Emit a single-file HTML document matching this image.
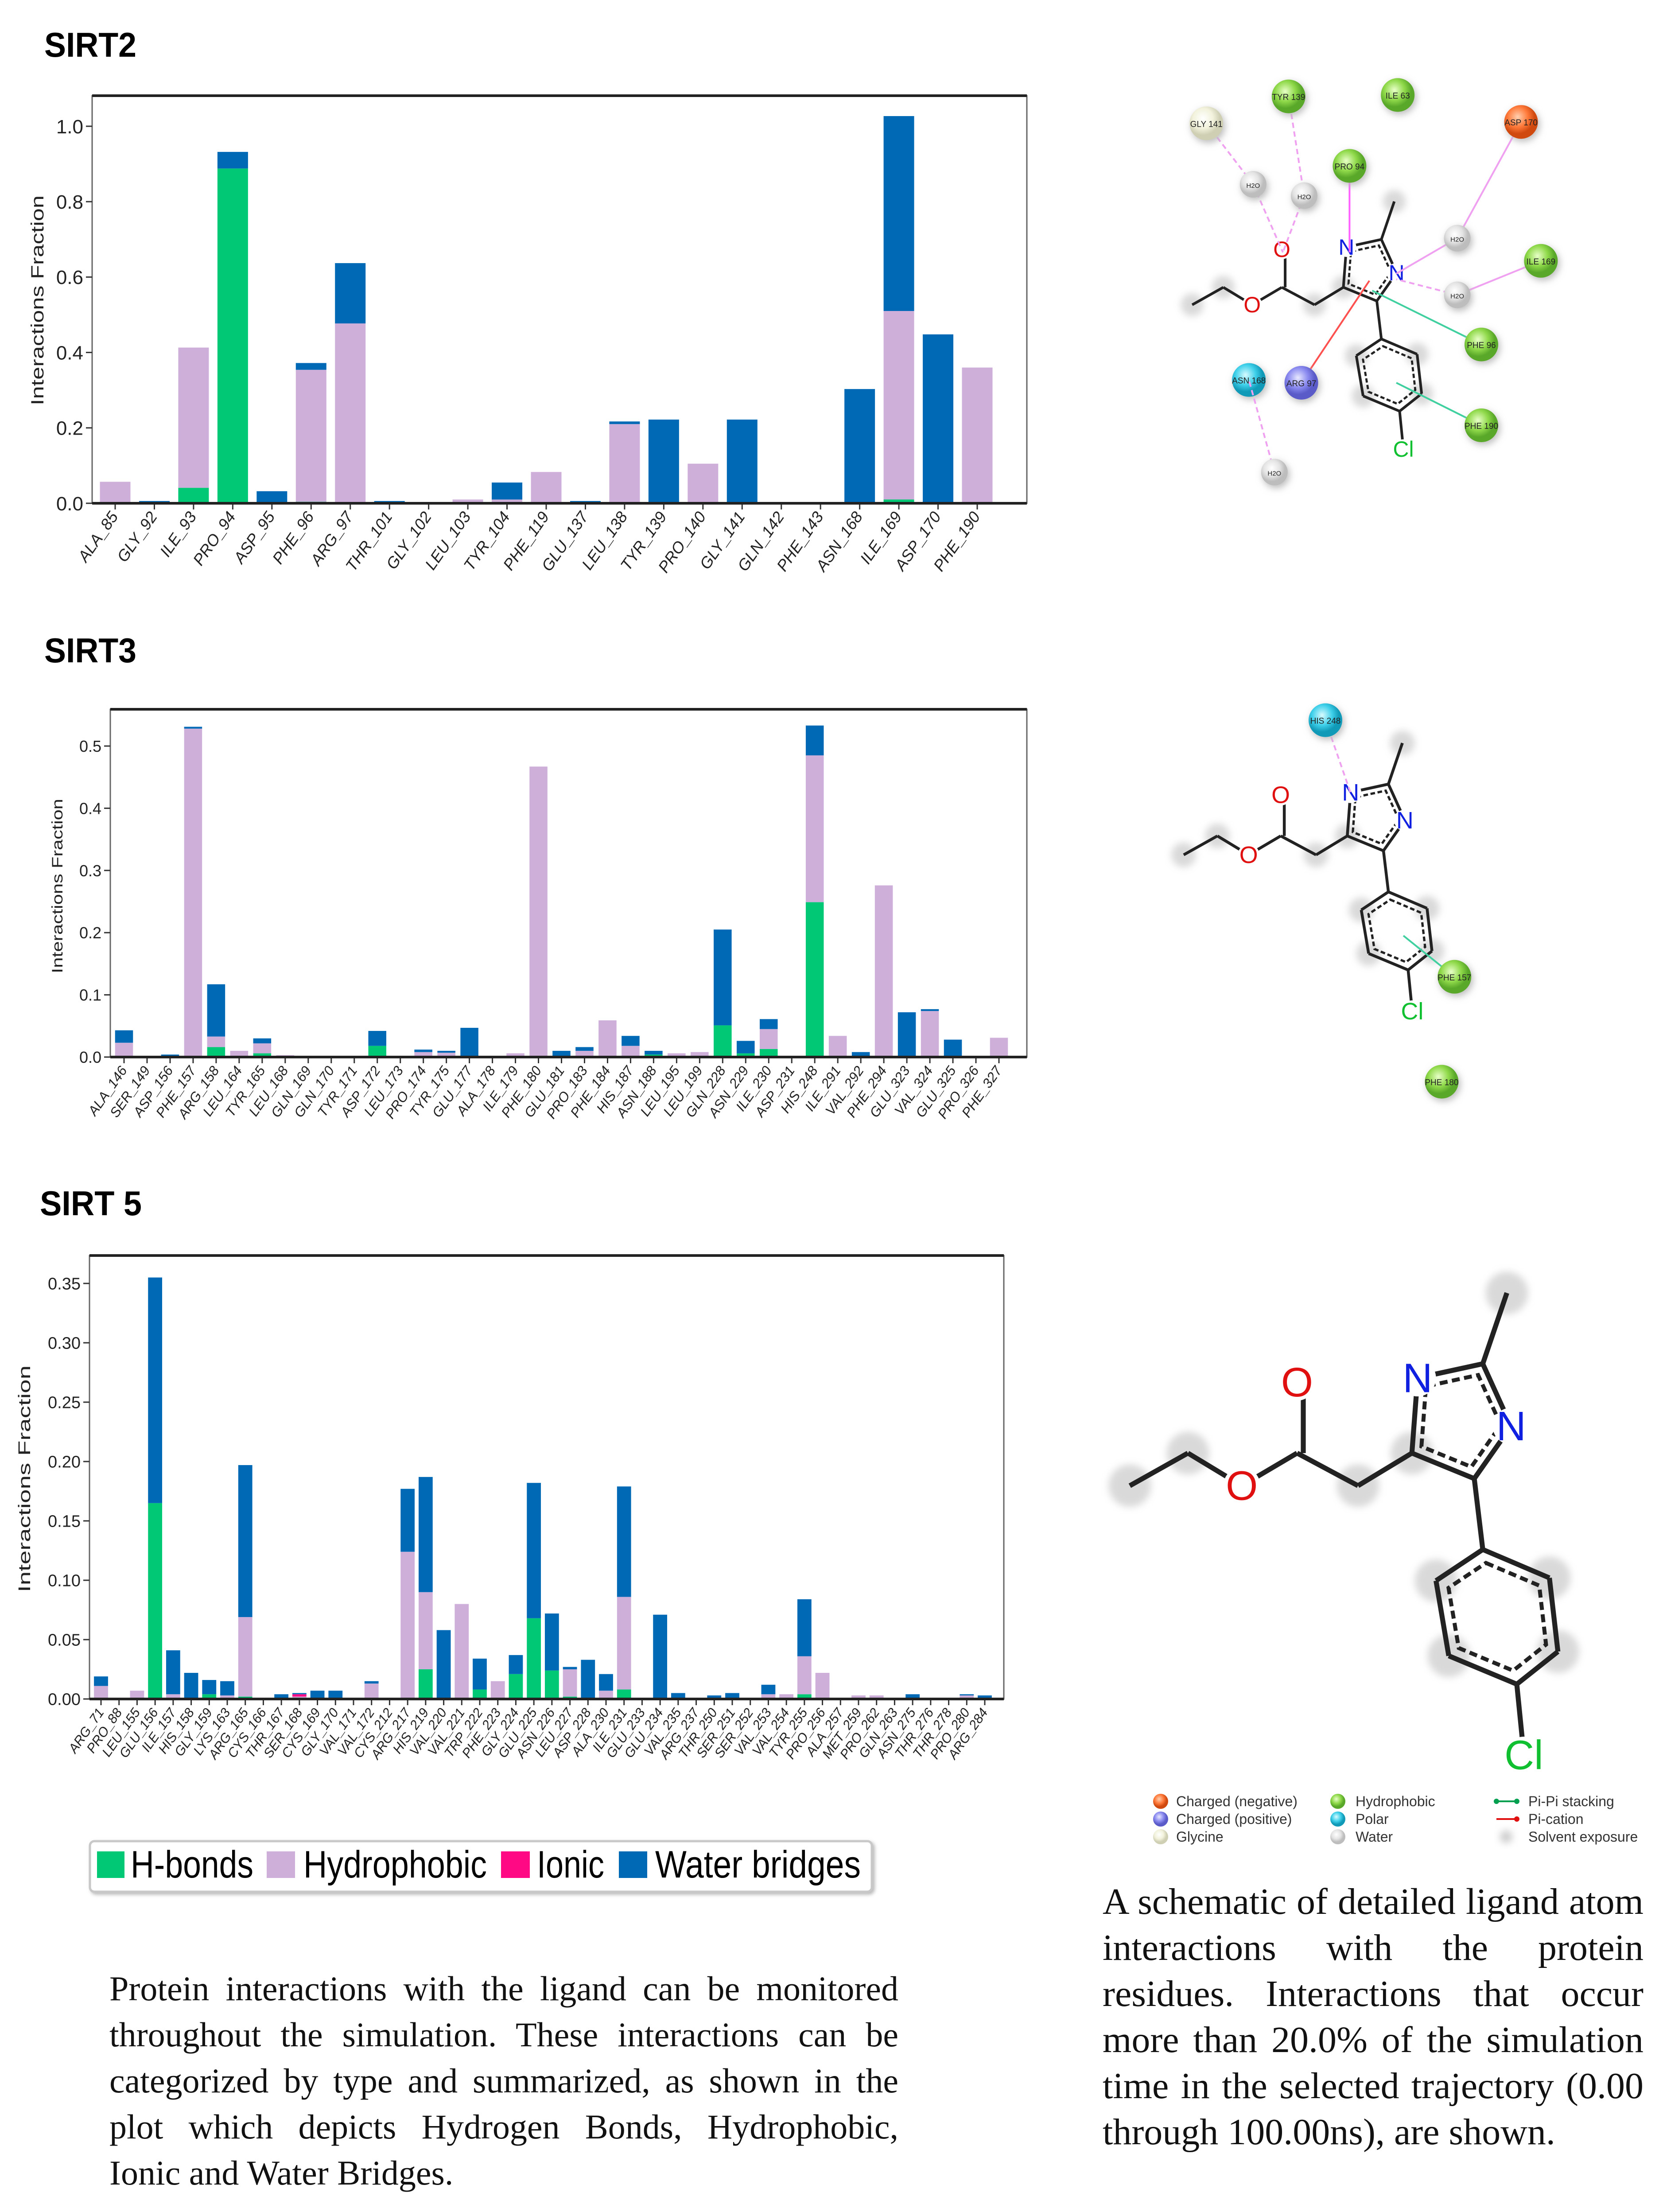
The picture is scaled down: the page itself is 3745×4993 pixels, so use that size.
<!DOCTYPE html>
<html><head><meta charset="utf-8"><style>
html,body{margin:0;padding:0;background:#fff;}
body{position:relative;width:3745px;height:4993px;overflow:hidden;}
svg{display:block;position:absolute;left:0;top:0;}
.cap{position:absolute;font-family:'Liberation Serif',serif;font-size:84px;line-height:104px;color:#111;}
.cap.left{font-size:78px;}
.cap div{text-align:justify;text-align-last:justify;height:104px;overflow:visible;}
.cap div.lastline{text-align:left;text-align-last:left;white-space:nowrap;}
</style></head><body>
<svg id="fig" xmlns="http://www.w3.org/2000/svg" width="3745" height="4993" viewBox="0 0 3745 4993" font-family="'Liberation Sans', sans-serif">
<defs>
<filter id="blur" x="-50%" y="-50%" width="200%" height="200%"><feGaussianBlur stdDeviation="8"/></filter>
<filter id="shadow" x="-5%" y="-20%" width="110%" height="140%"><feDropShadow dx="4" dy="4" stdDeviation="4" flood-color="#999" flood-opacity="0.7"/></filter>
<radialGradient id="gGreen" cx="40%" cy="35%"><stop offset="0" stop-color="#e8ffc8"/><stop offset="0.6" stop-color="#8fd94a"/><stop offset="1" stop-color="#5aa82a"/></radialGradient>
<radialGradient id="gOrange" cx="40%" cy="35%"><stop offset="0" stop-color="#ffd0b0"/><stop offset="0.6" stop-color="#ff7a3a"/><stop offset="1" stop-color="#d04a10"/></radialGradient>
<radialGradient id="gCyan" cx="40%" cy="35%"><stop offset="0" stop-color="#d8fbff"/><stop offset="0.6" stop-color="#3fd0ea"/><stop offset="1" stop-color="#109ab8"/></radialGradient>
<radialGradient id="gPurple" cx="40%" cy="35%"><stop offset="0" stop-color="#e8e8ff"/><stop offset="0.6" stop-color="#8a8af0"/><stop offset="1" stop-color="#5a5ac8"/></radialGradient>
<radialGradient id="gPale" cx="40%" cy="35%"><stop offset="0" stop-color="#ffffff"/><stop offset="0.6" stop-color="#f2f2dc"/><stop offset="1" stop-color="#cfcfb4"/></radialGradient>
<radialGradient id="gGray" cx="40%" cy="35%"><stop offset="0" stop-color="#ffffff"/><stop offset="0.6" stop-color="#e4e4e4"/><stop offset="1" stop-color="#bdbdbd"/></radialGradient>
</defs>

<text x="100" y="128" font-size="78" font-weight="bold" textLength="208" lengthAdjust="spacingAndGlyphs">SIRT2</text>
<text x="100" y="1495" font-size="78" font-weight="bold" textLength="208" lengthAdjust="spacingAndGlyphs">SIRT3</text>
<text x="90" y="2743" font-size="78" font-weight="bold" textLength="230" lengthAdjust="spacingAndGlyphs">SIRT 5</text>

<g id="charts"></g>
<g id="mols"></g>

<g>
<rect x="203" y="4156" width="1765" height="114" rx="10" fill="#fff" stroke="#c8c8c8" stroke-width="5" filter="url(#shadow)"/>
<rect x="219" y="4179" width="62" height="60" fill="#00C875"/>
<text x="295" y="4238" font-size="86" textLength="277" lengthAdjust="spacingAndGlyphs">H-bonds</text>
<rect x="602" y="4179" width="64" height="60" fill="#CDAFD9"/>
<text x="685" y="4238" font-size="86" textLength="414" lengthAdjust="spacingAndGlyphs">Hydrophobic</text>
<rect x="1131" y="4179" width="65" height="60" fill="#FF0A84"/>
<text x="1212" y="4238" font-size="86" textLength="152" lengthAdjust="spacingAndGlyphs">Ionic</text>
<rect x="1397" y="4179" width="64" height="60" fill="#0069B6"/>
<text x="1479" y="4238" font-size="86" textLength="464" lengthAdjust="spacingAndGlyphs">Water bridges</text>
</g>

<g font-size="32" fill="#333">
<circle cx="2620" cy="4066" r="17" fill="url(#gOrange)"/><text x="2655" y="4077">Charged (negative)</text>
<circle cx="2620" cy="4106" r="17" fill="url(#gPurple)"/><text x="2655" y="4117">Charged (positive)</text>
<circle cx="2620" cy="4146" r="17" fill="url(#gPale)"/><text x="2655" y="4157">Glycine</text>
<circle cx="3020" cy="4066" r="17" fill="url(#gGreen)"/><text x="3060" y="4077">Hydrophobic</text>
<circle cx="3020" cy="4106" r="17" fill="url(#gCyan)"/><text x="3060" y="4117">Polar</text>
<circle cx="3020" cy="4146" r="17" fill="url(#gGray)"/><text x="3060" y="4157">Water</text>
<line x1="3378" y1="4066" x2="3424" y2="4066" stroke="#00a050" stroke-width="4"/><circle cx="3378" cy="4066" r="6" fill="#00a050"/><circle cx="3424" cy="4066" r="6" fill="#00a050"/><text x="3450" y="4077">Pi-Pi stacking</text>
<line x1="3378" y1="4106" x2="3424" y2="4106" stroke="#e01010" stroke-width="4"/><circle cx="3424" cy="4106" r="6" fill="#e01010"/><text x="3450" y="4117">Pi-cation</text>
<circle cx="3400" cy="4146" r="14" fill="#ccc" filter="url(#blur)"/><text x="3450" y="4157">Solvent exposure</text>
</g>
</svg>

<div class="cap left" style="left:247px;top:4437px;width:1781px;">
<div>Protein interactions with the ligand can be monitored</div>
<div>throughout the simulation. These interactions can be</div>
<div>categorized by type and summarized, as shown in the</div>
<div>plot which depicts Hydrogen Bonds, Hydrophobic,</div>
<div class="lastline">Ionic and Water Bridges.</div>
</div>
<div class="cap" style="left:2489px;top:4241px;width:1221px;">
<div>A schematic of detailed ligand atom</div>
<div>interactions with the protein</div>
<div>residues. Interactions that occur</div>
<div>more than 20.0% of the simulation</div>
<div>time in the selected trajectory (0.00</div>
<div class="lastline">through 100.00ns), are shown.</div>
</div>

<script>
// ---------- SIRT2 data ----------
const sirt2Residues = ["ALA_85","GLY_92","ILE_93","PRO_94","ASP_95","PHE_96","ARG_97","THR_101","GLY_102","LEU_103","TYR_104","PHE_119","GLU_137","LEU_138","TYR_139","PRO_140","GLY_141","GLN_142","PHE_143","ASN_168","ILE_169","ASP_170","PHE_190"];
const sirt2HBonds      = [0,0,0.041,0.888,0,0.004,0,0,0,0,0,0,0,0,0,0,0,0,0,0,0.010,0,0];
const sirt2Hydrophobic = [0.057,0,0.372,0,0,0.350,0.477,0,0,0.010,0.010,0.083,0,0.210,0,0.105,0,0,0.003,0,0.500,0,0.360];
const sirt2Ionic       = [0,0,0,0,0,0,0,0,0,0,0,0,0,0,0,0,0,0,0,0,0,0,0];
const sirt2Water       = [0,0.006,0,0.044,0.032,0.018,0.160,0.006,0,0,0.045,0,0.006,0.007,0.222,0,0.222,0,0,0.303,0.517,0.448,0];
const sirt2YTicks = [0,0.2,0.4,0.6,0.8,1.0];
const sirt2YLabels = ["0.0","0.2","0.4","0.6","0.8","1.0"];

// ---------- SIRT3 data ----------
const sirt3Residues = ["ALA_146","SER_149","ASP_156","PHE_157","ARG_158","LEU_164","TYR_165","LEU_168","GLN_169","GLN_170","TYR_171","ASP_172","LEU_173","PRO_174","TYR_175","GLU_177","ALA_178","ILE_179","PHE_180","GLU_181","PRO_183","PHE_184","HIS_187","ASN_188","LEU_195","LEU_199","GLN_228","ASN_229","ILE_230","ASP_231","HIS_248","ILE_291","VAL_292","PHE_294","GLU_323","VAL_324","GLU_325","PRO_326","PHE_327"];
const sirt3HBonds      = [0,0,0,0,0.016,0,0.006,0,0,0,0,0.018,0,0,0,0,0,0,0,0,0,0,0.002,0.004,0,0,0.051,0.006,0.013,0,0.249,0,0,0,0,0,0,0,0];
const sirt3Hydrophobic = [0.023,0,0,0.528,0.017,0.010,0.016,0.003,0,0,0,0,0,0.008,0.007,0,0,0.006,0.467,0,0.010,0.059,0.016,0,0.006,0.008,0,0,0.032,0,0.236,0.034,0,0.276,0,0.074,0,0,0.031];
const sirt3Ionic       = [0,0,0,0,0,0,0,0,0,0,0,0,0,0,0,0,0,0,0,0,0,0,0,0,0,0,0,0,0,0,0,0,0,0,0,0,0,0,0];
const sirt3Water       = [0.020,0,0.004,0.003,0.084,0,0.008,0,0.001,0.001,0.002,0.024,0.001,0.004,0.003,0.047,0,0,0,0.010,0.006,0,0.016,0.006,0,0,0.154,0.020,0.016,0.001,0.048,0,0.008,0,0.072,0.003,0.028,0,0];
const sirt3YTicks = [0,0.1,0.2,0.3,0.4,0.5];
const sirt3YLabels = ["0.0","0.1","0.2","0.3","0.4","0.5"];

// ---------- SIRT5 data ----------
const sirt5Residues = ["ARG_71","PRO_88","LEU_155","GLU_156","ILE_157","HIS_158","GLY_159","LYS_163","ARG_165","CYS_166","THR_167","SER_168","CYS_169","GLY_170","VAL_171","VAL_172","CYS_212","ARG_217","HIS_219","VAL_220","VAL_221","TRP_222","PHE_223","GLY_224","GLU_225","ASN_226","LEU_227","ASP_228","ALA_230","ILE_231","GLU_233","GLU_234","VAL_235","ARG_237","THR_250","SER_251","SER_252","VAL_253","VAL_254","TYR_255","PRO_256","ALA_257","MET_259","PRO_262","GLN_263","ASN_275","THR_276","THR_278","PRO_280","ARG_284"];
const sirt5HBonds      = [0,0,0,0.165,0.001,0,0.004,0,0.002,0,0.001,0.001,0.001,0.001,0,0,0,0,0.025,0,0,0.008,0,0.021,0.068,0.024,0.002,0,0,0.008,0,0,0,0,0,0,0,0,0,0.004,0,0,0,0,0.001,0,0,0,0,0];
const sirt5Hydrophobic = [0.011,0,0.007,0,0.003,0.001,0,0.003,0.067,0,0,0.001,0,0,0,0.013,0,0.124,0.065,0,0.080,0,0.015,0,0,0,0.023,0,0.007,0.078,0,0,0,0.001,0,0,0,0.004,0.004,0.032,0.022,0,0.003,0.003,0,0,0,0,0.003,0];
const sirt5Ionic       = [0,0,0,0,0,0,0,0,0,0,0,0.002,0,0,0,0,0.001,0,0,0,0,0,0,0,0,0,0,0,0,0,0,0,0,0,0,0,0,0,0,0,0,0,0,0,0,0,0,0,0,0];
const sirt5Water       = [0.008,0,0,0.190,0.037,0.021,0.012,0.012,0.128,0.001,0.003,0.001,0.006,0.006,0,0.002,0,0.053,0.097,0.058,0,0.026,0,0.016,0.114,0.048,0.002,0.033,0.014,0.093,0.001,0.071,0.005,0,0.003,0.005,0.001,0.008,0,0.048,0,0.001,0,0,0,0.004,0.001,0.001,0.001,0.003];
const sirt5YTicks = [0,0.05,0.10,0.15,0.20,0.25,0.30,0.35];
const sirt5YLabels = ["0.00","0.05","0.10","0.15","0.20","0.25","0.30","0.35"];

const COLORS = {hb:"#00C875", hy:"#CDAFD9", io:"#FF0A84", wb:"#0069B6"};
const NS = "http://www.w3.org/2000/svg";
function mk(tag, attrs, parent){ const e=document.createElementNS(NS,tag); for(const k in attrs) e.setAttribute(k,attrs[k]); if(parent) parent.appendChild(e); return e; }

function drawChart(id, cats, hb, hy, io, wb, yTicks, yLabels, L){
  const g = mk('g',{},document.getElementById('charts'));
  
  
  const yS = v => L.base - v*(L.base-L.refPx)/L.refVal;
  const n = cats.length;
  const step = (L.lastTick-L.firstTick)/(n-1);
  const xS = i => L.firstTick + i*step;
  const bw = step*0.78;
  mk('rect',{x:L.left,y:L.top,width:L.right-L.left,height:L.base-L.top,fill:'#fff',stroke:'#666','stroke-width':3},g);
  mk('line',{x1:L.left,y1:L.top,x2:L.right,y2:L.top,stroke:'#222','stroke-width':6},g);
  for(let i=0;i<n;i++){
    let acc=0;
    const segs=[[hb[i],COLORS.hb,'hbonds'],[hy[i],COLORS.hy,'hydrophobic'],[io[i],COLORS.io,'ionic'],[wb[i],COLORS.wb,'water-bridges']];
    for(const s of segs){
      if(s[0]<=0) continue;
      const y0=yS(acc), y1=yS(acc+s[0]);
      const r=mk('rect',{x:xS(i)-bw/2,y:y1,width:bw,height:Math.max(y0-y1,1.5),fill:s[1]},g);
      
      
      acc+=s[0];
    }
    mk('line',{x1:xS(i),y1:L.base,x2:xS(i),y2:L.base+14,stroke:'#333','stroke-width':3},g);
    const t=mk('text',{x:xS(i)+8,y:L.base+30,'font-size':L.xfs,'font-style':'italic','text-anchor':'end',fill:'#222',transform:`rotate(-55 ${xS(i)+8} ${L.base+30})`},g);
    t.textContent=cats[i];
    
    
  }
  mk('line',{x1:L.left,y1:L.base,x2:L.right,y2:L.base,stroke:'#222','stroke-width':6},g);
  yTicks.forEach((v,k)=>{
    mk('line',{x1:L.left-14,y1:yS(v),x2:L.left,y2:yS(v),stroke:'#333','stroke-width':3},g);
    const t=mk('text',{x:L.left-20,y:yS(v)+L.yfs*0.36,'font-size':L.yfs,'text-anchor':'end',fill:'#222'},g);
    t.textContent=yLabels[k];
    
    
  });
  const yt=mk('text',{x:L.ytX,y:L.ytY,'font-size':L.ytFs,'text-anchor':'middle',fill:'#222',textLength:L.ytLen,lengthAdjust:'spacingAndGlyphs',transform:`rotate(-90 ${L.ytX} ${L.ytY})`},g);
  yt.textContent='Interactions Fraction';
  
  
}

drawChart('sirt2',sirt2Residues,sirt2HBonds,sirt2Hydrophobic,sirt2Ionic,sirt2Water,sirt2YTicks,sirt2YLabels,
  {left:208,right:2318,top:216,base:1136,refVal:1.0,refPx:285,firstTick:260,lastTick:2206,xfs:36,yfs:44,ytX:98,ytY:678,ytFs:40,ytLen:474});
drawChart('sirt3',sirt3Residues,sirt3HBonds,sirt3Hydrophobic,sirt3Ionic,sirt3Water,sirt3YTicks,sirt3YLabels,
  {left:249,right:2318,top:1601,base:2386,refVal:0.5,refPx:1684,firstTick:280,lastTick:2255,xfs:31,yfs:36,ytX:141,ytY:2000,ytFs:34,ytLen:394});
drawChart('sirt5',sirt5Residues,sirt5HBonds,sirt5Hydrophobic,sirt5Ionic,sirt5Water,sirt5YTicks,sirt5YLabels,
  {left:202,right:2266,top:2834,base:3835,refVal:0.35,refPx:2897,firstTick:228,lastTick:2223,xfs:30,yfs:38,ytX:68,ytY:3338,ytFs:38,ytLen:512});

// ---------- molecule diagrams ----------
const atoms = {a0:[0,0],a1:[41,-23],Oe:[79,0],Cc:[118,-23],Oc:[118,-73],CH2:[161,0],C4:[199,-23],N1:[203,-76],C2:[249,-86],Me:[266,-136],N3:[269,-42],C5:[243,-5],P1:[249,45],P2:[296,65],P3:[302,117],P4:[273,140],P5:[225,120],P6:[216,67],Cl:[278,190]};
const bonds = [["a0","a1"],["a1","Oe"],["Oe","Cc"],["Cc","CH2"],["CH2","C4"],["C4","N1"],["N1","C2"],["C2","Me"],["C2","N3"],["N3","C5"],["C5","C4"],["C5","P1"],["P1","P2"],["P2","P3"],["P3","P4"],["P4","P5"],["P5","P6"],["P6","P1"],["P4","Cl"]];
function drawMol(name, ox, oy, s, residues){
  const g = mk('g',{},document.getElementById('mols'));
  
  
  const P = k => [ox+atoms[k][0]*3.2*s, oy+atoms[k][1]*3.2*s];
  ["a0","a1","CH2","C4","Me","P2","P3","P5","P6"].forEach(k=>{const p=P(k); mk('circle',{cx:p[0],cy:p[1],r:30*s*1.6,fill:'#d0d0d0',filter:'url(#blur)',opacity:0.8},g);});
  const sw = 7*s*1.6;
  bonds.forEach(b=>{const p=P(b[0]),q=P(b[1]); mk('line',{x1:p[0],y1:p[1],x2:q[0],y2:q[1],stroke:'#222','stroke-width':sw},g);});
  const c=P("Cc"),o=P("Oc"); mk('line',{x1:c[0]+14*s,y1:c[1],x2:o[0]+14*s,y2:o[1]+20*s,stroke:'#222','stroke-width':sw},g);
  const ring=(ks)=>{const pts=ks.map(P); const cx=pts.reduce((a,p)=>a+p[0],0)/pts.length, cy=pts.reduce((a,p)=>a+p[1],0)/pts.length;
    const inner=pts.map(p=>[cx+(p[0]-cx)*0.8,cy+(p[1]-cy)*0.8]);
    mk('polygon',{points:inner.map(p=>p.join(',')).join(' '),fill:'none',stroke:'#222','stroke-width':sw*0.8,'stroke-dasharray':`${18*s} ${10*s}`},g);};
  ring(["C4","N1","C2","N3","C5"]); ring(["P1","P2","P3","P4","P5","P6"]);
  const lab=(k,t,col)=>{const p=P(k); mk('circle',{cx:p[0],cy:p[1],r:26*s*1.6,fill:'#fff'},g); const e=mk('text',{x:p[0],y:p[1]+20*s*1.6,'font-size':58*s*1.6,'text-anchor':'middle',fill:col},g); e.textContent=t;};
  lab("Oe","O","#e01010"); lab("Oc","O","#e01010"); lab("N1","N","#1020e0"); lab("N3","N","#1020e0"); lab("Cl","Cl","#10c030");
  residues.forEach(r=>{
    if(r.line){ mk('line',{x1:r.x,y1:r.y,x2:r.line[0],y2:r.line[1],stroke:r.lc,'stroke-width':4,'stroke-dasharray':r.dash?'12 8':'none'},g); }
    mk('circle',{cx:r.x+4,cy:r.y+6,r:r.r,fill:'#bbb',filter:'url(#blur)'},g);
    mk('circle',{cx:r.x,cy:r.y,r:r.r,fill:`url(#${r.f})`},g);
    const t=mk('text',{x:r.x,y:r.y+8,'font-size':r.r*0.5,'text-anchor':'middle',fill:'#222'},g); t.textContent=r.t;
  });
}
const sc=3.2;
drawMol('sirt5-ligand-diagram',797*sc,1048*sc,1.0,[]);
drawMol('sirt3-ligand-diagram',835*sc,603*sc,0.58,[
 {x:935*sc,y:508*sc,r:38,f:'gCyan',t:'HIS 248',line:[953*sc,560*sc],lc:'#f0a0f0',dash:true},
 {x:1026*sc,y:689*sc,r:38,f:'gGreen',t:'PHE 157',line:[990*sc,660*sc],lc:'#40d0a0'},
 {x:1017*sc,y:763*sc,r:38,f:'gGreen',t:'PHE 180'}]);
drawMol('sirt2-ligand-diagram',841*sc,215*sc,0.536,[
 {x:851*sc,y:87*sc,r:38,f:'gPale',t:'GLY 141',line:[884*sc,130*sc],lc:'#f0a0f0',dash:true},
 {x:909*sc,y:68*sc,r:38,f:'gGreen',t:'TYR 139',line:[920*sc,138*sc],lc:'#f0a0f0',dash:true},
 {x:986*sc,y:67*sc,r:38,f:'gGreen',t:'ILE 63'},
 {x:1073*sc,y:86*sc,r:38,f:'gOrange',t:'ASP 170',line:[1028*sc,168*sc],lc:'#f0a0f0'},
 {x:952*sc,y:117*sc,r:38,f:'gGreen',t:'PRO 94',line:[952*sc,178*sc],lc:'#ff60ff'},
 {x:884*sc,y:130*sc,r:30,f:'gGray',t:'H2O',line:[905*sc,178*sc],lc:'#f0a0f0',dash:true},
 {x:920*sc,y:138*sc,r:30,f:'gGray',t:'H2O',line:[905*sc,178*sc],lc:'#f0a0f0',dash:true},
 {x:1028*sc,y:168*sc,r:30,f:'gGray',t:'H2O',line:[985*sc,193*sc],lc:'#f0a0f0'},
 {x:1087*sc,y:184*sc,r:38,f:'gGreen',t:'ILE 169',line:[1028*sc,208*sc],lc:'#f0a0f0'},
 {x:1028*sc,y:208*sc,r:30,f:'gGray',t:'H2O',line:[985*sc,197*sc],lc:'#f0a0f0',dash:true},
 {x:1045*sc,y:243*sc,r:38,f:'gGreen',t:'PHE 96',line:[968*sc,205*sc],lc:'#40d0a0'},
 {x:881*sc,y:268*sc,r:38,f:'gCyan',t:'ASN 168'},
 {x:918*sc,y:270*sc,r:38,f:'gPurple',t:'ARG 97',line:[966*sc,198*sc],lc:'#ff5050'},
 {x:1045*sc,y:300*sc,r:38,f:'gGreen',t:'PHE 190',line:[985*sc,270*sc],lc:'#40d0a0'},
 {x:899*sc,y:333*sc,r:30,f:'gGray',t:'H2O',line:[881*sc,268*sc],lc:'#f0a0f0',dash:true}]);
</script>
</body></html>
